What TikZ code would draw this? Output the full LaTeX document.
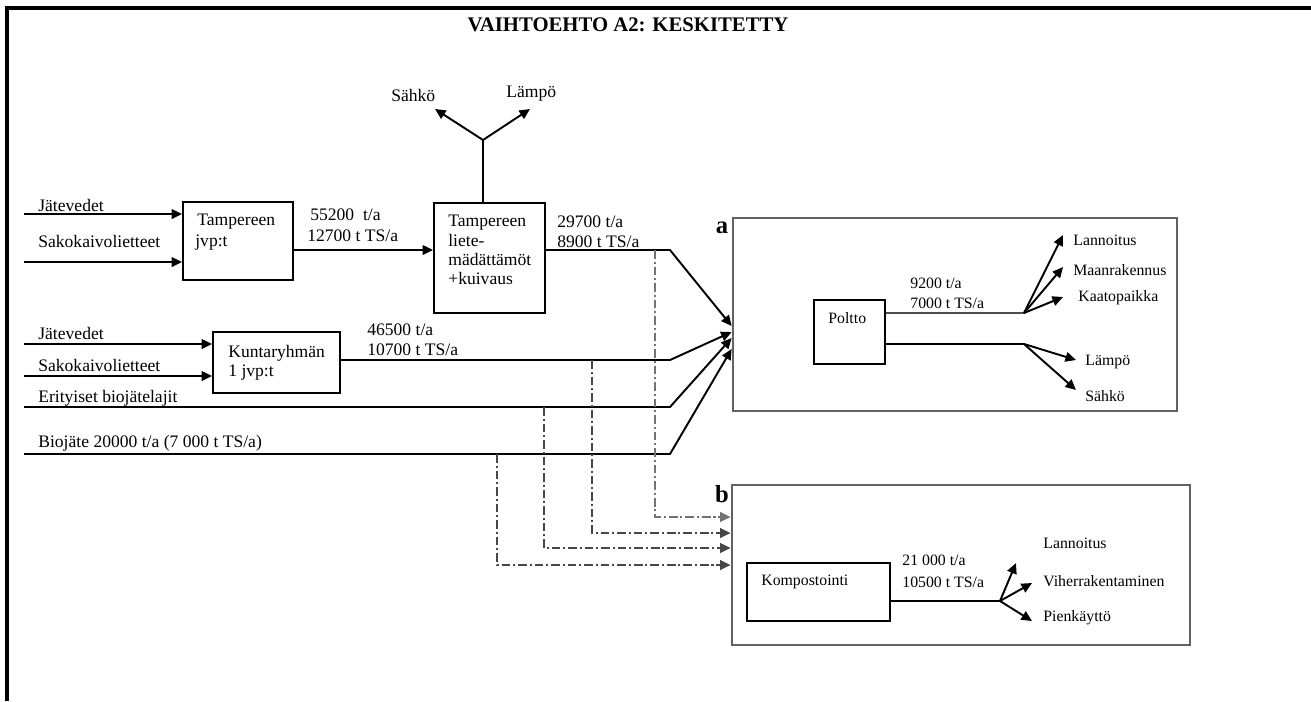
\documentclass[tikz,border=0pt]{standalone}
\usepackage{fontspec}
\setmainfont{Liberation Serif}
\usetikzlibrary{arrows.meta,calc}
\begin{document}
\begin{tikzpicture}[x=0.02cm,y=-0.02cm,
  box/.style={draw, line width=1.1pt, inner sep=0pt},
  region/.style={draw=black!62, line width=1.6pt, inner sep=0pt},
  flow/.style={line width=1.1pt},
  arr/.style={line width=1.1pt, -{Triangle[length=6pt,width=5.5pt]}},
  dd/.style={line width=1.1pt, black!72, dash pattern=on 5pt off 1.6pt on 1.2pt off 1.6pt, -{Triangle[length=6pt,width=5.5pt]}},
  lbl/.style={anchor=west, inner sep=0pt, font=\fontsize{10}{11}\selectfont},
  slbl/.style={anchor=west, inner sep=0pt, font=\fontsize{9}{10}\selectfont},
  blbl/.style={anchor=north west, inner sep=0pt, align=left, font=\fontsize{10}{10.9pt}\selectfont},
]
\useasboundingbox (0,0) rectangle (1311,701);
% outer frame
\draw[line width=1.8pt] (7,701) -- (7,8) -- (1311,8);
\node[font=\bfseries\fontsize{11.8}{13}\selectfont] (title) at (628,25) {VAIHTOEHTO A2: KESKITETTY};

% boxes
\node[box, minimum width=2.2cm, minimum height=1.56cm] (tjvp) at (238,241) {};
\node[box, minimum width=2.22cm, minimum height=2.2cm] (liete) at (489.5,258) {};
\node[box, minimum width=2.54cm, minimum height=1.22cm] (kunta) at (276.5,362.5) {};
\node[region, minimum width=8.88cm, minimum height=3.86cm] (ra) at (955,314.5) {};
\node[region, minimum width=9.16cm, minimum height=3.2cm] (rb) at (961,565) {};
\node[box, minimum width=1.42cm, minimum height=1.28cm] (poltto) at (849.5,332) {};
\node[box, minimum width=2.86cm, minimum height=1.16cm] (komp) at (818.5,592) {};

% box texts
\node[lbl] (t1) at (197,222) {Tampereen};
\node[lbl] (t2) at (195,243) {jvp:t};
\node[blbl] (t3) at (448,215) {Tampereen\\liete-\\mädättämöt\\+kuivaus};
\node[lbl] (t4) at (228,353) {Kuntaryhmän};
\node[lbl] (t5) at (228,373) {1 jvp:t};
\node[slbl] (t6) at (828,318) {Poltto};
\node[slbl] (t7) at (761,582) {Kompostointi};

\node[font=\bfseries\fontsize{14}{14}\selectfont, inner sep=0pt] (la) at (722,228) {a};
\node[font=\bfseries\fontsize{14}{14}\selectfont, inner sep=0pt] (lb) at (722,494) {b};

% left inputs
\node[lbl] (jv1) at (38,205) {Jätevedet};
\node[lbl] (sk1) at (38,241) {Sakokaivolietteet};
\node[lbl] (jv2) at (38,333) {Jätevedet};
\node[lbl] (sk2) at (38,365) {Sakokaivolietteet};
\node[lbl] (eb) at (38,398) {Erityiset biojätelajit};
\node[lbl] (bj) at (38,443) {Biojäte 20000 t/a (7 000 t TS/a)};

\coordinate (j1) at (24,214);
\coordinate (s1) at (24,262);
\coordinate (j2) at (24,344);
\coordinate (s2) at (24,376);
\coordinate (e0) at (24,407);
\coordinate (b0) at (24,454);
\draw[arr] (j1) -- (j1 -| tjvp.west);
\draw[arr] (s1) -- (s1 -| tjvp.west);
\draw[arr] (j2) -- (j2 -| kunta.west);
\draw[arr] (s2) -- (s2 -| kunta.west);

% flow labels
\node[lbl] (f1a) at (310,215) {55200\ \ t/a};
\node[lbl] (f1b) at (307,236) {12700 t TS/a};
\node[lbl] (f2a) at (557,222) {29700 t/a};
\node[lbl] (f2b) at (557,242) {8900 t TS/a};
\node[lbl] (f3a) at (367,330) {46500 t/a};
\node[lbl] (f3b) at (367,350) {10700 t TS/a};

% tjvp -> liete
\coordinate (m1) at (293,250);
\draw[arr] (m1 -| tjvp.east) -- (m1 -| liete.west);

% liete top outputs
\coordinate (yb) at (483,140);
\coordinate (ys) at (435,109);
\coordinate (yl) at (530,109);
\node[lbl] (sa1) at (391,95) {Sähkö};
\node[lbl] (lp1) at (506,94) {Lämpö};
\draw[flow] (liete.north -| yb) -- (yb);
\draw[arr] (yb) -- (ys);
\draw[arr] (yb) -- (yl);

% into region a
\coordinate (k1) at (670,250);
\coordinate (k2) at (670,360);
\coordinate (k3) at (670,407);
\coordinate (k4) at (670,454);
\coordinate (a1) at (733,326);
\coordinate (a2) at (733,332);
\coordinate (a3) at (733,338);
\coordinate (a4) at (733,349);
\draw[arr] (k1 -| liete.east) -- (k1) -- (a1 -| ra.west);
\draw[arr] (k2 -| kunta.east) -- (k2) -- (a2 -| ra.west);
\draw[arr] (e0) -- (k3) -- (a3 -| ra.west);
\draw[arr] (b0) -- (k4) -- (a4 -| ra.west);

% dash-dot into region b
\coordinate (d1) at (655,250);
\coordinate (d2) at (592,360);
\coordinate (d3) at (544,407);
\coordinate (d4) at (497,454);
\coordinate (c1) at (655,517);
\coordinate (c2) at (592,533);
\coordinate (c3) at (544,548);
\coordinate (c4) at (497,565);
\draw[dd, black!55] (d1) -- (c1) -- (c1 -| rb.west);
\draw[dd] (d2) -- (c2) -- (c2 -| rb.west);
\draw[dd] (d3) -- (c3) -- (c3 -| rb.west);
\draw[dd] (d4) -- (c4) -- (c4 -| rb.west);

% region a interior
\node[slbl] (p1) at (910,283) {9200 t/a};
\node[slbl] (p2) at (910,303) {7000 t TS/a};
\coordinate (pu) at (1024,313);
\coordinate (pl) at (1024,344);
\draw[flow, black!70, line width=1.5pt] (pu -| poltto.east) -- (pu);
\draw[flow] (pl -| poltto.east) -- (pl);
\node[slbl] (o1) at (1073,240) {Lannoitus};
\node[slbl] (o2) at (1073,270) {Maanrakennus};
\node[slbl] (o3) at (1078,298) {Kaatopaikka};
\node[slbl] (o4) at (1085,362) {Lämpö};
\node[slbl] (o5) at (1085,396) {Sähkö};
\coordinate (q1) at (1063,235);
\coordinate (q2) at (1063,267);
\coordinate (q3) at (1063,297);
\coordinate (q4) at (1076,360);
\coordinate (q5) at (1076,390);
\draw[arr] (pu) -- (q1);
\draw[arr] (pu) -- (q2);
\draw[arr] (pu) -- (q3);
\draw[arr] (pl) -- (q4);
\draw[arr] (pl) -- (q5);

% region b interior
\node[slbl] (r1) at (902,560) {21 000 t/a};
\node[slbl] (r2) at (902,582) {10500 t TS/a};
\coordinate (ku) at (1000,601);
\draw[flow] (ku -| komp.east) -- (ku);
\node[slbl] (u1) at (1043,543) {Lannoitus};
\node[slbl] (u2) at (1043,581) {Viherrakentaminen};
\node[slbl] (u3) at (1043,618) {Pienkäyttö};
\coordinate (v1) at (1016,563);
\coordinate (v2) at (1032,583);
\coordinate (v3) at (1032,621);
\draw[arr] (ku) -- (v1);
\draw[arr] (ku) -- (v2);
\draw[arr] (ku) -- (v3);
\end{tikzpicture}
\end{document}
